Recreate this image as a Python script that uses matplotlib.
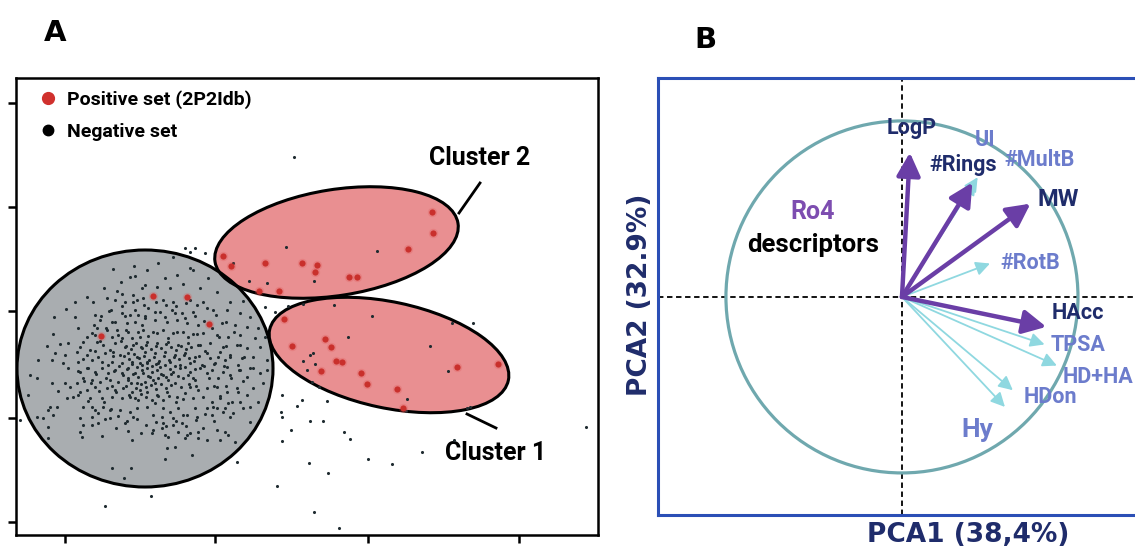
import numpy as np
import matplotlib.pyplot as plt
from matplotlib.patches import Ellipse, Circle
from matplotlib.lines import Line2D

# ---------------- panel A : score plot (arbitrary score units) ----------------
neg_cloud_nw = [
    (1.13,-2.69),(1.34,-2.66),(1.30,-2.77),(1.35,-2.76),(1.21,-2.82),(1.42,-2.88),(1.04,-2.88),(1.17,-2.91),
    (1.33,-2.95),(1.22,-2.94),(0.87,-2.97),(0.75,-3.02),(0.93,-3.02),(1.07,-2.98),(1.15,-3.00),(1.25,-3.02),
    (1.37,-3.00),(0.66,-3.09),(1.09,-3.11),(0.95,-3.15),(1.22,-3.13),(1.30,-3.15),(1.38,-3.15),(0.54,-3.17),
    (0.75,-3.17),(1.00,-3.20),(1.12,-3.22),(1.27,-3.23),(1.35,-3.22),(1.42,-3.25),(0.78,-3.28),(0.97,-3.28),
    (1.07,-3.30),(1.17,-3.30),(1.28,-3.32),(0.53,-3.34),(0.92,-3.33),(1.12,-3.37),(1.22,-3.38),(1.32,-3.38),
    (1.40,-3.37),(0.68,-3.43),(0.60,-3.44),(0.47,-3.46),(0.83,-3.42),(0.97,-3.42),(1.03,-3.45),(1.15,-3.43),
    (1.25,-3.47),(1.33,-3.45),(1.42,-3.48),(0.55,-3.53),(0.65,-3.55),(0.77,-3.52),(0.87,-3.55),(0.95,-3.51),
    (1.05,-3.53),(1.13,-3.52),(1.20,-3.55),(1.28,-3.53),(1.37,-3.57),(0.38,-3.60),(0.52,-3.60),(0.63,-3.63),
    (0.78,-3.62),(0.92,-3.60),(1.02,-3.62),(1.12,-3.62),(1.22,-3.63),(1.32,-3.62),(1.40,-3.63),
]
neg_cloud_ne = [
    (1.85,-2.48),(1.95,-2.48),(1.90,-2.52),(1.73,-2.57),(1.58,-2.63),(1.90,-2.68),(1.93,-2.70),(1.77,-2.75),
    (1.47,-2.70),(1.65,-2.78),(2.08,-2.78),(1.45,-2.85),(1.57,-2.87),(1.70,-2.88),(1.83,-2.84),(2.00,-2.88),
    (2.17,-2.92),(1.43,-2.98),(1.63,-3.00),(1.73,-3.02),(1.90,-3.00),(2.03,-3.02),(2.30,-3.02),(2.43,-3.01),
    (1.48,-3.08),(1.60,-3.12),(1.72,-3.10),(1.82,-3.13),(1.93,-3.12),(2.13,-3.10),(2.27,-3.10),(2.40,-3.13),
    (2.50,-3.17),(1.45,-3.18),(1.55,-3.20),(1.67,-3.22),(1.77,-3.20),(1.87,-3.23),(1.98,-3.25),(2.22,-3.23),
    (2.35,-3.25),(2.47,-3.27),(2.58,-3.28),(1.43,-3.30),(1.53,-3.32),(1.63,-3.30),(1.73,-3.33),(1.83,-3.32),
    (1.93,-3.34),(2.03,-3.33),(2.17,-3.35),(2.28,-3.37),(2.40,-3.35),(2.55,-3.38),(2.65,-3.37),(1.47,-3.42),
    (1.57,-3.43),(1.68,-3.42),(1.78,-3.45),(1.88,-3.43),(1.98,-3.45),(2.10,-3.43),(2.23,-3.47),(2.37,-3.45),
    (2.47,-3.48),(2.60,-3.47),(1.45,-3.52),(1.55,-3.53),(1.65,-3.52),(1.75,-3.55),(1.85,-3.53),(1.95,-3.57),
    (2.07,-3.53),(2.18,-3.57),(2.30,-3.55),(2.42,-3.58),(2.53,-3.57),(2.67,-3.60),(1.47,-3.62),(1.58,-3.63),
    (1.70,-3.62),(1.80,-3.65),(1.90,-3.63),(2.02,-3.65),(2.15,-3.63),(2.27,-3.67),(2.38,-3.65),(2.50,-3.68),
    (2.05,-2.53),
]
neg_cloud_sw = [
    (0.30,-3.75),(0.37,-3.78),(0.28,-3.95),(0.52,-3.83),(0.58,-3.91),(0.65,-3.83),(0.70,-3.87),(0.77,-3.83),
    (0.68,-3.68),(0.80,-3.72),(0.87,-3.68),(0.95,-3.72),(1.02,-3.68),(1.08,-3.73),(1.15,-3.70),(1.22,-3.73),
    (1.28,-3.68),(1.35,-3.73),(1.42,-3.70),(0.83,-3.78),(0.92,-3.80),(1.00,-3.82),(1.10,-3.80),(1.18,-3.82),
    (1.28,-3.80),(1.37,-3.83),(0.95,-3.87),(1.07,-3.88),(1.15,-3.90),(1.23,-3.88),(1.32,-3.92),(1.40,-3.90),
    (0.67,-3.98),(0.73,-3.97),(0.78,-3.95),(0.87,-3.90),(0.90,-3.98),(1.02,-3.98),(1.12,-3.97),(1.22,-3.98),
    (1.30,-3.97),(1.38,-4.00),(0.50,-4.07),(0.48,-4.10),(0.57,-4.07),(0.83,-4.07),(0.92,-4.07),(1.03,-4.07),
    (1.10,-4.10),(1.20,-4.10),(1.30,-4.12),(1.37,-4.08),(0.37,-4.17),(0.43,-4.18),(0.53,-4.15),(0.80,-4.18),
    (0.92,-4.17),(0.98,-4.13),(1.10,-4.18),(1.25,-4.23),(1.33,-4.17),(0.48,-4.27),(0.83,-4.25),(0.92,-4.25),
    (0.98,-4.23),(0.80,-4.32),(0.82,-4.37),(1.02,-4.36),(0.48,-4.38),(1.32,-4.40),(1.12,-4.68),(1.31,-4.68),
    (1.24,-4.78),(0.20,-4.20),(1.51,-4.96),(1.05,-5.06),
]
neg_cloud_se = [
    (1.47,-3.68),(1.52,-3.72),(1.57,-3.70),(1.50,-3.77),(1.58,-3.78),(1.55,-3.83),(1.63,-3.75),(1.68,-3.80),
    (1.45,-3.82),(1.73,-3.72),(1.80,-3.68),(1.75,-3.83),(1.83,-3.78),(1.90,-3.72),(1.95,-3.80),(2.00,-3.68),
    (2.07,-3.73),(2.12,-3.70),(2.18,-3.78),(2.23,-3.72),(2.30,-3.75),(2.40,-3.70),(2.47,-3.77),(2.53,-3.68),
    (2.60,-3.73),(2.67,-3.70),(1.90,-3.87),(1.98,-3.90),(2.07,-3.88),(2.17,-3.87),(2.27,-3.92),(2.37,-3.88),
    (2.47,-3.95),(2.53,-3.88),(2.63,-3.83),(1.47,-3.92),(1.57,-3.95),(1.67,-3.92),(1.77,-3.97),(1.85,-3.93),
    (1.93,-3.98),(2.03,-3.97),(2.12,-4.02),(2.20,-3.98),(2.28,-4.03),(2.40,-4.02),(2.50,-4.07),(2.58,-4.02),
    (1.47,-4.07),(1.55,-4.03),(1.63,-4.08),(1.70,-4.12),(1.78,-4.08),(1.87,-4.15),(1.95,-4.08),(2.07,-4.08),
    (2.17,-4.08),(2.25,-4.08),(2.33,-4.13),(2.43,-4.08),(1.53,-4.15),(1.62,-4.17),(1.73,-4.18),(1.83,-4.15),
    (1.97,-4.17),(2.12,-4.15),(2.30,-4.17),(2.50,-4.22),(1.63,-4.23),(1.62,-4.28),(1.73,-4.25),(1.82,-4.23),
    (1.52,-4.33),(1.68,-4.37),(1.87,-4.35),(1.98,-4.32),(2.17,-4.30),(2.25,-4.32),(2.28,-4.35),(1.98,-4.38),
    (1.85,-4.38),(2.07,-4.40),(2.20,-4.40),(2.35,-4.42),(1.67,-4.48),(1.75,-4.47),(1.92,-4.55),(1.65,-4.59),
    (2.37,-4.62),
]
neg_core = [
    (1.21,-3.41),(1.26,-3.46),(1.31,-3.49),(1.36,-3.43),(1.41,-3.47),(1.46,-3.45),(1.51,-3.49),(1.56,-3.46),
    (1.61,-3.48),(1.66,-3.44),(1.71,-3.47),(1.76,-3.50),(1.81,-3.46),(1.86,-3.49),(1.91,-3.47),(1.24,-3.56),
    (1.29,-3.59),(1.34,-3.54),(1.39,-3.58),(1.44,-3.56),(1.49,-3.60),(1.54,-3.57),(1.59,-3.61),(1.64,-3.56),
    (1.69,-3.60),(1.74,-3.57),(1.79,-3.59),(1.84,-3.55),(1.89,-3.58),(1.94,-3.61),(1.99,-3.56),(1.19,-3.66),
    (1.27,-3.69),(1.32,-3.64),(1.37,-3.67),(1.42,-3.65),(1.47,-3.63),(1.52,-3.66),(1.56,-3.64),(1.60,-3.67),
    (1.65,-3.65),(1.70,-3.69),(1.75,-3.66),(1.85,-3.67),(1.95,-3.69),(2.04,-3.66),(1.23,-3.75),(1.28,-3.78),
    (1.33,-3.74),(1.38,-3.77),(1.43,-3.73),(1.48,-3.76),(1.53,-3.80),(1.61,-3.74),(1.66,-3.77),(1.71,-3.74),
    (1.78,-3.76),(1.88,-3.75),(1.93,-3.78),(1.26,-3.86),(1.31,-3.83),(1.36,-3.88),(1.41,-3.84),(1.46,-3.87),
    (1.51,-3.85),(1.56,-3.89),(1.61,-3.84),(1.66,-3.88),(1.71,-3.85),(1.81,-3.87),(1.89,-3.84),(1.96,-3.86),
    (1.29,-3.95),(1.35,-3.98),(1.41,-3.94),(1.46,-3.97),(1.52,-4.00),(1.58,-3.96),(1.63,-4.00),(1.69,-3.96),
    (1.76,-4.02),(1.83,-3.99),(1.10,-3.50),(1.13,-3.56),(1.08,-3.65),(1.14,-3.71),(1.06,-3.78),(1.12,-3.86),
    (1.16,-3.92),(2.00,-3.45),(2.05,-3.51),(2.10,-3.58),(2.14,-3.64),(2.09,-3.78),(2.14,-3.86),(2.20,-3.52),
    (2.25,-3.60),(1.18,-3.35),(1.26,-3.30),(1.38,-3.32),(1.48,-3.36),(1.57,-3.33),(1.68,-3.38),(1.77,-3.32),
    (1.88,-3.37),(1.97,-3.34),
]
neg_ring = [
    (0.95,-3.35),(1.00,-3.41),(0.90,-3.50),(0.98,-3.57),(0.88,-3.68),(0.96,-3.74),(0.91,-3.83),(0.99,-3.91),
    (1.04,-4.02),(1.11,-4.09),(1.18,-4.16),(1.27,-4.21),(1.37,-4.19),(1.46,-4.25),(1.56,-4.22),(1.66,-4.26),
    (1.76,-4.21),(1.86,-4.26),(1.96,-4.20),(2.05,-4.14),(2.13,-4.07),(2.20,-3.96),(2.26,-3.86),(2.31,-3.78),
    (2.24,-3.66),(2.30,-3.57),(2.26,-3.46),(2.19,-3.37),(2.12,-3.28),(2.04,-3.21),(1.95,-3.16),(1.85,-3.18),
    (1.75,-3.13),(1.65,-3.17),(1.55,-3.12),(1.45,-3.16),(1.35,-3.10),(1.25,-3.16),(1.15,-3.22),(1.06,-3.28),
    (1.01,-3.16),(0.94,-3.25),(0.87,-3.37),(0.80,-3.47),(0.83,-3.59),(0.78,-3.71),(0.84,-3.81),(0.80,-3.92),
    (0.88,-4.01),(0.95,-4.10),(1.05,-4.19),(1.16,-4.28),(1.28,-4.31),(1.41,-4.33),(1.53,-4.30),(1.65,-4.35),
    (1.78,-4.32),(1.90,-4.33),(2.03,-4.28),(2.14,-4.21),(2.23,-4.12),(2.32,-4.02),(2.38,-3.92),(2.43,-3.81),
    (2.39,-3.70),(2.44,-3.57),(2.40,-3.45),(2.34,-3.32),(2.26,-3.22),(2.16,-3.15),(2.07,-3.08),(1.97,-3.05),
    (1.86,-3.03),(1.76,-3.06),(1.66,-3.05),(1.56,-3.02),(1.44,-3.05),(1.33,-3.02),(1.22,-3.06),(1.11,-3.10),
]
neg_outer = [
    (2.65,-3.07),(2.75,-3.12),(2.88,-3.06),(3.03,-3.04),(3.34,-3.05),(3.72,-3.16),(3.48,-3.37),(4.30,-3.46),
    (4.48,-3.71),(4.52,-3.23),(4.73,-3.23),(3.03,-3.61),(3.10,-3.55),(3.13,-3.53),(3.15,-3.64),(3.07,-3.70),
    (3.12,-3.82),(3.19,-3.87),(4.07,-3.99),(4.06,-4.11),(4.67,-4.08),(4.70,-4.07),(2.82,-3.95),(3.02,-4.00),
    (2.97,-4.06),(3.27,-4.01),(2.81,-4.12),(2.82,-4.17),(3.10,-4.21),(3.23,-4.21),(2.91,-4.30),(3.44,-4.32),
    (3.50,-4.39),(2.82,-4.41),(4.22,-4.52),(4.54,-4.40),(3.09,-4.63),(3.68,-4.59),(3.92,-4.64),(3.28,-4.73),
    (2.77,-4.86),(3.14,-5.12),(3.39,-5.28),(5.86,-4.27),(2.86,-2.47),(3.77,-2.51),(3.14,-2.81),(2.67,-2.83),
    (2.49,-2.81),(2.33,-2.63),(2.94,-1.57),
]
pos_cluster2 = [
    (4.32,-2.12),(4.33,-2.33),(4.08,-2.49),(3.57,-2.77),(3.49,-2.77),(3.17,-2.65),(3.15,-2.72),(3.02,-2.63),
    (2.65,-2.63),(2.31,-2.66),(2.23,-2.56),(2.59,-2.91),(2.79,-2.91),
]
pos_cluster1 = [
    (2.84,-3.19),(2.92,-3.46),(3.25,-3.39),(3.31,-3.47),(3.36,-3.61),(3.42,-3.62),(3.21,-3.71),(3.61,-3.73),
    (3.67,-3.84),(3.97,-3.89),(4.03,-4.08),(4.57,-3.67),(4.98,-3.64),
]
pos_other = [(1.01,-3.36),(1.53,-2.96),(1.87,-2.97),(2.09,-3.24)]

# ---------------- panel B : loadings on PCA1 / PCA2 ----------------
descriptors = ['LogP', '#Rings', 'MW', 'HAcc', 'UI', '#MultB', '#RotB', 'TPSA', 'HD+HA', 'HDon', 'Hy']
pc1_load = [0.045, 0.40, 0.73, 0.82, 0.43, 0.42, 0.50, 0.81, 0.88, 0.63, 0.585]
pc2_load = [0.82, 0.65, 0.53, -0.17, 0.68, 0.66, 0.19, -0.27, -0.39, -0.53, -0.625]
is_ro4 = [True, True, True, True, False, False, False, False, False, False, False]

neg = np.array(neg_cloud_nw + neg_cloud_ne + neg_cloud_sw + neg_cloud_se + neg_core + neg_ring + neg_outer)
pos = np.array(pos_cluster2 + pos_cluster1 + pos_other)

dark_txt = '#1f2c6b'
light_txt = '#6c7ccc'
purple = '#6a3ea6'
cyan = '#8fd8e0'
sans = 'Roboto'

fig = plt.figure(figsize=(11.35, 5.53), dpi=100)

# ---- A ----
axA = fig.add_axes([16/1135, 18/553, 582/1135, 457/553])
axA.set_xlim(0.16, 5.98)
axA.set_ylim(-5.35, -0.78)
axA.set_xticks([0.65, 2.15, 3.68, 5.19])
axA.set_yticks([-5.22, -4.18, -3.11, -2.07, -1.03])
axA.tick_params(direction='out', length=6, width=1.8, labelleft=False, labelbottom=False)
for s in axA.spines.values():
    s.set_linewidth(1.8)

grey = Ellipse((1.45, -3.685), 2.56, 2.37)
cl2 = Ellipse((3.365, -2.425), 2.46, 1.06, angle=9)
cl1 = Ellipse((3.89, -3.55), 2.44, 1.06, angle=-12)
axA.add_patch(Ellipse(grey.center, grey.width, grey.height, fc='#a9adb0', ec='none', zorder=1))
for e in (cl2, cl1):
    axA.add_patch(Ellipse(e.center, e.width, e.height, angle=e.angle, fc='#e8898b', ec='none', alpha=0.95, zorder=2))
for e in (grey, cl2, cl1):
    axA.add_patch(Ellipse(e.center, e.width, e.height, angle=e.angle, fill=False, ec='black', lw=2.2, zorder=3))

axA.scatter(neg[:, 0], neg[:, 1], s=5, c='#1f2b30', linewidths=0, zorder=4)
axA.scatter(pos[:, 0], pos[:, 1], s=45, c='#e05050', alpha=0.25, linewidths=0, zorder=5)
axA.scatter(pos[:, 0], pos[:, 1], s=20, c='#c9302c', linewidths=0, zorder=5)

axA.plot([4.59, 4.80], [-2.13, -1.83], color='black', lw=2, zorder=3)
axA.plot([4.67, 4.96], [-4.14, -4.28], color='black', lw=2, zorder=3)
lab_font = dict(family=sans, weight='bold', size=18)
axA.text(4.80, -1.58, 'Cluster 2', ha='center', va='center', **lab_font)
axA.text(4.96, -4.53, 'Cluster 1', ha='center', va='center', **lab_font)

handles = [Line2D([], [], marker='o', ls='', color='#d0312d', markersize=8.5, label='Positive set (2P2Idb)'),
           Line2D([], [], marker='o', ls='', color='black', markersize=7.5, label='Negative set')]
axA.legend(handles=handles, loc='upper left', bbox_to_anchor=(0.027, 0.99), frameon=False,
           prop=dict(family=sans, weight='bold', size=14), handlelength=0.9, handletextpad=0.5,
           labelspacing=0.7, borderaxespad=0)

# ---- B ----
axB = fig.add_axes([658/1135, 38/553, 502/1135, 437/553])
axB.set_xlim(-1.386, 1.466)
axB.set_ylim(-1.239, 1.244)
axB.set_xticks([])
axB.set_yticks([])
for s in axB.spines.values():
    s.set_color('#2b4fb6')
    s.set_linewidth(2.2)

axB.axhline(0, color='black', lw=1.3, ls=(0, (3, 2)), zorder=1)
axB.axvline(0, color='black', lw=1.3, ls=(0, (3, 2)), zorder=1)
axB.add_patch(Circle((0, 0), 1, fill=False, ec='#6fa8ae', lw=2.3, zorder=2))

for x, y, ro4 in zip(pc1_load, pc2_load, is_ro4):
    if not ro4:
        axB.annotate('', xy=(x, y), xytext=(0, 0), zorder=3,
                     arrowprops=dict(arrowstyle='-|>,head_length=0.6,head_width=0.3', color=cyan,
                                     lw=1.3, mutation_scale=14, shrinkA=0, shrinkB=0))
for x, y, ro4 in zip(pc1_load, pc2_load, is_ro4):
    if ro4:
        axB.annotate('', xy=(x, y), xytext=(0, 0), zorder=4,
                     arrowprops=dict(arrowstyle='-|>,head_length=0.7,head_width=0.36', color=purple,
                                     lw=3.2, mutation_scale=20, shrinkA=0, shrinkB=0))

label_pos = {
    'LogP': (0.057, 0.96), '#Rings': (0.347, 0.75), 'MW': (0.886, 0.551), 'HAcc': (1.0, -0.091),
    'UI': (0.472, 0.892), '#MultB': (0.784, 0.778), '#RotB': (0.727, 0.193), 'TPSA': (1.0, -0.273),
    'HD+HA': (0.915, -0.455), 'HDon': (0.841, -0.568), 'Hy': (0.426, -0.756),
}
for name, ro4 in zip(descriptors, is_ro4):
    lx, ly = label_pos[name]
    ha = 'left' if name == 'HD+HA' else 'center'
    size = 19 if name == 'Hy' else (17 if name == 'MW' else 15.5)
    axB.text(lx, ly, name, ha=ha, va='center', color=dark_txt if ro4 else light_txt,
             family=sans, weight='bold', size=size, zorder=5)

axB.text(-0.506, 0.483, 'Ro4', ha='center', va='center', color='#7d4db0', family=sans, weight='bold', size=18)
axB.text(-0.506, 0.295, 'descriptors', ha='center', va='center', color='black', family=sans, weight='bold', size=18.5)

fig.text(968/1135, 1 - 535/553, 'PCA1 (38,4%)', ha='center', va='center', color=dark_txt,
         family='DejaVu Sans', weight='bold', size=19)
fig.text(640/1135, 1 - 295/553, 'PCA2 (32.9%)', ha='center', va='center', rotation=90, color=dark_txt,
         family='DejaVu Sans', weight='bold', size=19)

fig.text(55/1135, 1 - 33/553, 'A', ha='center', va='center', weight='heavy', size=21, family='DejaVu Sans')
fig.text(705/1135, 1 - 40/553, 'B', ha='center', va='center', weight='heavy', size=21, family='DejaVu Sans')

fig.savefig('out.png', dpi=100)
